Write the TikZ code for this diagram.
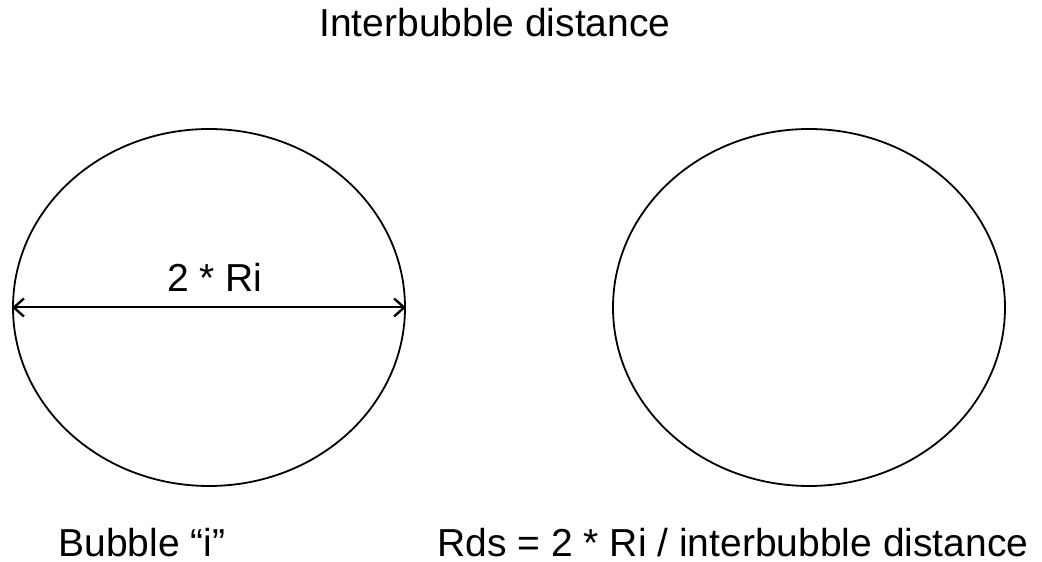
\documentclass[tikz,border=0pt]{standalone}
\usepackage{fontspec}
\setmainfont{Liberation Sans}
\usetikzlibrary{shapes.geometric,arrows.meta}
\begin{document}
\begin{tikzpicture}[x=1pt,y=1pt,
  bubble/.style={draw, ellipse, line width=1.8pt, inner sep=0pt, minimum width=392pt, minimum height=357pt},
  lbl/.style={font=\fontsize{39}{45}\selectfont, anchor=base, inner sep=0pt},
  dim/.style={line width=2pt, {Straight Barb[length=10pt,width=18pt,line width=2.4pt]}-{Straight Barb[length=10pt,width=18pt,line width=2.4pt]}}]
\useasboundingbox (0,0) rectangle (1042,562);
\node[bubble] (L) at (209,254.5) {};
\node[bubble] (R) at (809,254.5) {};
\draw[dim] (L.west) -- (L.east);
\node[lbl] (d) at (215,270) {2 * Ri};
\node[lbl] (t) at (495,525) {Interbubble distance};
\node[lbl] (b) at (142,5.5) {Bubble “i”};
\node[lbl] (r) at (733,5.5) {Rds = 2 * Ri / interbubble distance};
\end{tikzpicture}
\end{document}
